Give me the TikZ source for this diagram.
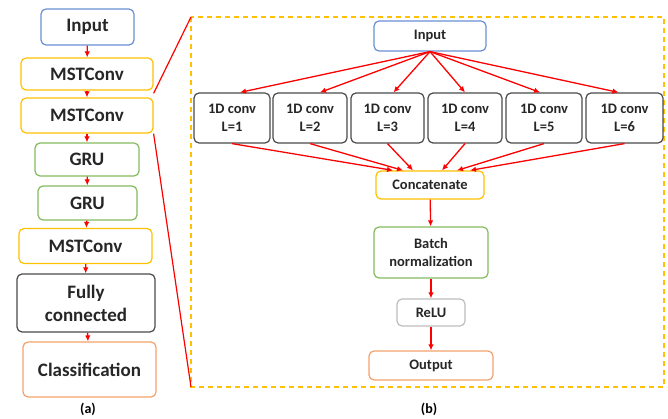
\documentclass[tikz,border=0pt]{standalone}
\usepackage{fontspec}
\setmainfont{Carlito}
\usetikzlibrary{arrows.meta}

\definecolor{cblue}{HTML}{6A8FD2}
\definecolor{cyellow}{HTML}{FFC000}
\definecolor{cgreen}{HTML}{84BA5E}
\definecolor{cdark}{HTML}{4A4A4A}
\definecolor{cgray}{HTML}{BDBDBD}
\definecolor{corange}{HTML}{F2A16C}

\begin{document}
\begin{tikzpicture}[x=1pt,y=-1pt,
  blk/.style={draw,text=black!85,rounded corners=5pt,line width=1.2pt,inner sep=0pt,align=center},
  big/.style={blk,font=\fontsize{19}{23}\selectfont\bfseries},
  small/.style={blk,font=\fontsize{14.5}{17.5}\selectfont\bfseries},
  flow/.style={-{Latex[length=6pt,width=5.5pt]},red,line width=1.3pt}]
\useasboundingbox (0,0) rectangle (668,419);

% (a) overall network
\node[big,draw=cblue, minimum width=93pt, minimum height=36pt] (A0) at (87.5,27) {Input};
\node[big,draw=cyellow, minimum width=132pt, minimum height=32pt] (A1) at (87,74) {MSTConv};
\node[big,draw=cyellow, minimum width=132pt, minimum height=35pt] (A2) at (87,115.5) {MSTConv};
\node[big,draw=cgreen, minimum width=104pt, minimum height=33pt] (A3) at (87,159.5) {GRU};
\node[big,draw=cgreen, minimum width=99pt, minimum height=34pt] (A4) at (87.5,203) {GRU};
\node[big,draw=cyellow, minimum width=133pt, minimum height=35pt] (A5) at (85.5,246) {MSTConv};
\node[big,draw=cdark, minimum width=138pt, minimum height=58pt] (A6) at (86,303) {Fully\\connected};
\node[big,draw=corange, minimum width=133pt, minimum height=55pt] (A7) at (89.5,369.5) {Classification};
\node[font=\fontsize{14}{16}\selectfont\bfseries] (LA) at (88,409) {(a)};
\draw[flow] (A0) -- (A1);
\draw[flow] (A1) -- (A2);
\draw[flow] (A2) -- (A3);
\draw[flow] (A3) -- (A4);
\draw[flow] (A4) -- (A5);
\draw[flow] (A5) -- (A6);
\draw[flow] (A6) -- (A7);

% zoomed block
\coordinate (Z0) at (191,17);
\coordinate (Z1) at (664,387);
\draw[cyellow,line width=1.5pt,dash pattern=on 5pt off 4pt] (Z0) rectangle (Z1);
\draw[red,line width=1.2pt] ([yshift=4pt]A2.north east) -- (Z0);
\draw[red,line width=1.2pt] (A2.south east) -- (Z0 |- Z1);

% (b) MSTConv
\node[small,draw=cblue, minimum width=112pt, minimum height=30pt] (B0) at (430,36) {Input};
\node[small,draw=cdark, minimum width=76pt, minimum height=50pt] (C1) at (232,118) {1D conv\\L=1};
\node[small,draw=cdark, minimum width=74pt, minimum height=50pt] (C2) at (310,118) {1D conv\\L=2};
\node[small,draw=cdark, minimum width=73pt, minimum height=50pt] (C3) at (387.5,118) {1D conv\\L=3};
\node[small,draw=cdark, minimum width=74pt, minimum height=50pt] (C4) at (465,118) {1D conv\\L=4};
\node[small,draw=cdark, minimum width=76pt, minimum height=50pt] (C5) at (544,118) {1D conv\\L=5};
\node[small,draw=cdark, minimum width=77pt, minimum height=50pt] (C6) at (624.5,118) {1D conv\\L=6};
\node[small,draw=cyellow, minimum width=108pt, minimum height=28pt] (B1) at (430,185) {Concatenate};
\node[small,draw=cgreen, minimum width=114pt, minimum height=51pt] (B2) at (431,252.5) {Batch\\normalization};
\node[small,draw=cgray, minimum width=68pt, minimum height=27pt] (B3) at (431,312.5) {ReLU};
\node[small,draw=corange, minimum width=124pt, minimum height=29pt] (B4) at (431,365.5) {Output};
\node[font=\fontsize{14}{16}\selectfont\bfseries] (LB) at (429,409) {(b)};

\draw[flow] (B0.south) -- ([xshift=8pt]C1.north);
\draw[flow] (B0.south) -- ([xshift=10pt]C2.north);
\draw[flow] (B0.south) -- ([xshift=6pt]C3.north);
\draw[flow] (B0.south) -- (C4.north);
\draw[flow] (B0.south) -- ([xshift=-4pt]C5.north);
\draw[flow] (B0.south) -- ([xshift=-6pt]C6.north);
\draw[flow] (C1.south) -- ([xshift=-37pt]B1.north);
\draw[flow] (C2.south) -- ([xshift=-27pt]B1.north);
\draw[flow] (C3.south) -- ([xshift=-17pt]B1.north);
\draw[flow] (C4.south) -- ([xshift=12pt]B1.north);
\draw[flow] (C5.south) -- ([xshift=27pt]B1.north);
\draw[flow] (C6.south) -- ([xshift=40pt]B1.north);
\draw[flow] (B1) -- (B2);
\draw[flow] (B2) -- (B3);
\draw[flow] (B3) -- (B4);
\end{tikzpicture}
\end{document}
